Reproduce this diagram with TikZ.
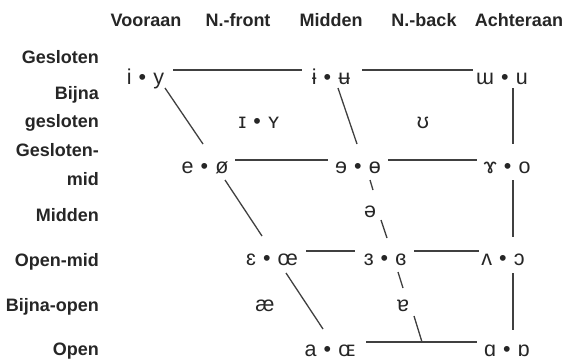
\documentclass[tikz,border=0pt]{standalone}
\usepackage{fontspec}
\setmainfont{Liberation Sans}
\begin{document}
\begin{tikzpicture}[x=1pt,y=-1pt,
  hdr/.style={font=\fontsize{18}{20}\selectfont\bfseries, text=black!85, inner sep=0pt, anchor=base},
  rowlab/.style={font=\fontsize{18}{20}\selectfont\bfseries, text=black!85, inner sep=0pt, anchor=base east},
  vow/.style={font=\fontsize{21.5}{24}\selectfont, text=black!85, inner sep=0pt, anchor=base},
  edge/.style={draw=black!75, line width=1.3pt}]
\newcommand{\vpair}[2]{#1\hspace{0.33em}•\hspace{0.33em}#2}
\useasboundingbox (0,0) rectangle (565,360);
% column headers
\node[hdr] (h1) at (146,26) {Vooraan};
\node[hdr] (h2) at (238,26) {N.-front};
\node[hdr] (h3) at (331,26) {Midden};
\node[hdr] (h4) at (424,26) {N.-back};
\node[hdr] (h5) at (519,26) {Achteraan};
% row labels
\node[rowlab] (r1) at (99,63) {Gesloten};
\node[rowlab] (r2a) at (99,99) {Bijna};
\node[rowlab] (r2b) at (99,127) {gesloten};
\node[rowlab] (r3a) at (99,156) {Gesloten-};
\node[rowlab] (r3b) at (99,185) {mid};
\node[rowlab] (r4) at (99,221) {Midden};
\node[rowlab] (r5) at (99,266) {Open-mid};
\node[rowlab] (r6) at (99,311) {Bijna-open};
\node[rowlab] (r7) at (99,355) {Open};
% trapezoid lines
\draw[edge] (173,70) -- (302,70);
\draw[edge] (362,70) -- (473,70);
\draw[edge] (235,160) -- (328,160);
\draw[edge] (388,160) -- (477,160);
\draw[edge] (306,251) -- (355,251);
\draw[edge] (414,251) -- (479,251);
\draw[edge] (366,342) -- (477,342);
% front edge
\draw[edge] (165,88) -- (203,144);
\draw[edge] (225,180) -- (262,236);
\draw[edge] (286,273) -- (323,329);
% central edge
\draw[edge] (338,88) -- (357,144);
\draw[edge] (370,180) -- (373,190);
\draw[edge] (381,220) -- (387,238);
\draw[edge] (398,272) -- (403,288);
\draw[edge] (414,316) -- (422,342);
% back edge
\draw[edge] (513,88) -- (513,144);
\draw[edge] (513,180) -- (513,237);
\draw[edge] (513,273) -- (513,330);
% vowels
\node[vow] (iy) at (145.5,84) {\vpair{i}{y}};
\node[vow] (iu) at (331,84) {\vpair{ɨ}{ʉ}};
\node[vow] (wu) at (502,84) {\vpair{ɯ}{u}};
\node[vow] (IY) at (259,128) {\vpair{ɪ}{ʏ}};
\node[vow] (U) at (423,128) {ʊ};
\node[vow] (eo) at (205,173) {\vpair{e}{ø}};
\node[vow] (e8) at (358,173) {\vpair{ɘ}{ɵ}};
\node[vow] (7o) at (507,173) {\vpair{ɤ}{o}};
\node[vow] (schwa) at (370,217) {ə};
\node[vow] (Eoe) at (272,265) {\vpair{ɛ}{œ}};
\node[vow] (3B) at (385,265) {\vpair{ɜ}{ɞ}};
\node[vow] (VO) at (503,265) {\vpair{ʌ}{ɔ}};
\node[vow] (ae) at (265,311) {æ};
\node[vow] (6) at (403,311) {ɐ};
\node[vow] (aOE) at (330,356) {\vpair{a}{ɶ}};
\node[vow] (AQ) at (507,356) {\vpair{ɑ}{ɒ}};
\end{tikzpicture}
\end{document}
